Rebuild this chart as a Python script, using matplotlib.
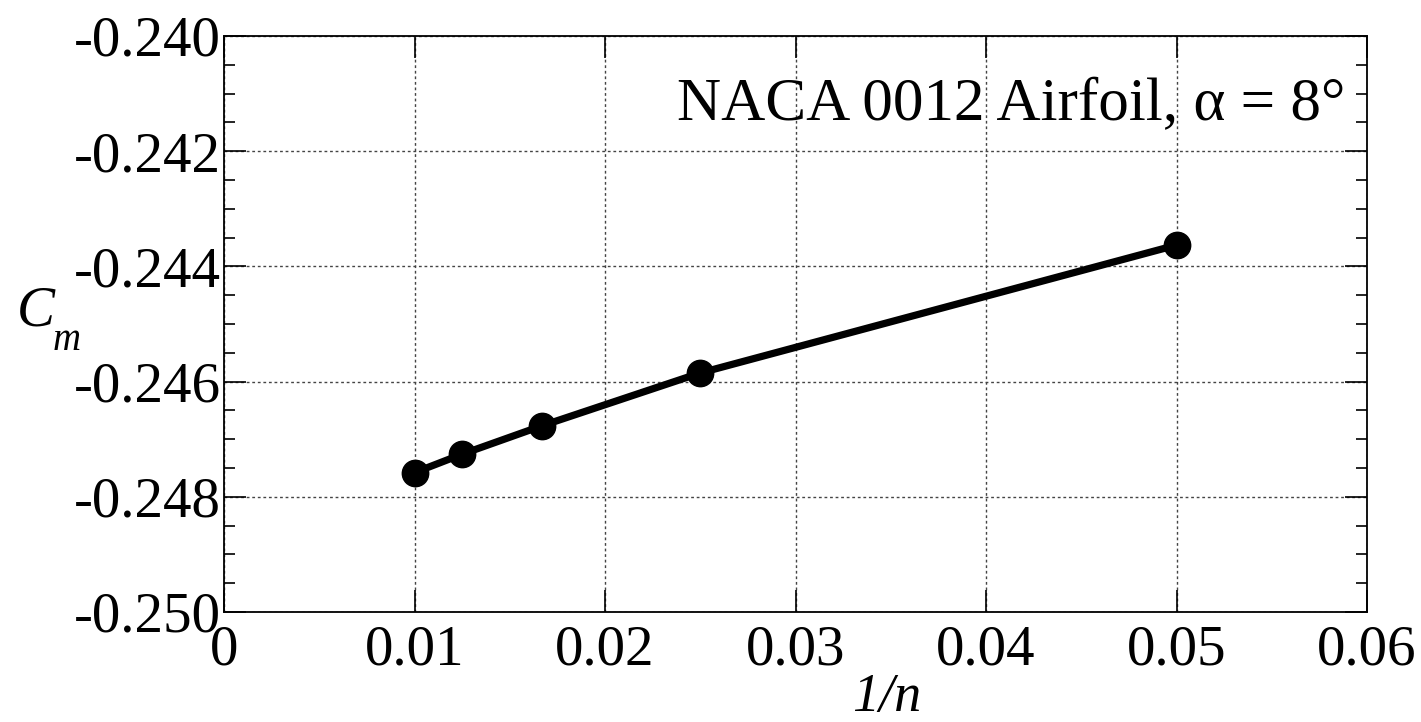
import matplotlib.pyplot as plt
from matplotlib.ticker import MultipleLocator

# grid refinement data: 1/n vs moment coefficient
n_cells = [100, 80, 60, 40, 20]
inv_n = [1.0 / n for n in n_cells]
cm = [-0.24758, -0.24726, -0.24677, -0.24585, -0.24363]

plt.rcParams["font.family"] = ["Liberation Serif", "DejaVu Serif"]

fig = plt.figure(figsize=(14.21, 7.22), dpi=100)
ax = fig.add_axes([224 / 1421, 1 - 612 / 722, (1367 - 224) / 1421, (612 - 36) / 722])

ax.plot(inv_n, cm, "-o", color="black", lw=5.2, markersize=19, zorder=3)

ax.set_xlim(0, 0.06)
ax.set_ylim(-0.250, -0.240)
ax.yaxis.set_major_locator(MultipleLocator(0.002))
ax.yaxis.set_minor_locator(MultipleLocator(0.0005))
ax.set_xticks([0, 0.01, 0.02, 0.03, 0.04, 0.05, 0.06])
ax.set_xticklabels(["0", "0.01", "0.02", "0.03", "0.04", "0.05", "0.06"])
ax.set_yticklabels(["%.3f" % v for v in ax.get_yticks()])

ax.tick_params(axis="both", which="major", direction="in", labelsize=41,
               length=16, width=1.2, top=True, right=True)
ax.tick_params(axis="y", which="minor", direction="in", length=8, width=1.2,
               right=True, left=True)
ax.tick_params(axis="y", which="major", pad=2)
ax.tick_params(axis="x", which="major", pad=9)

ax.grid(True, which="major", linestyle=(0, (2, 2)), color="#444444", lw=1)
for s in ax.spines.values():
    s.set_linewidth(1.3)

ax.text(0.981, 0.854, "NACA 0012 Airfoil, α = 8°", transform=ax.transAxes,
        ha="right", va="baseline", fontsize=44)

# axis labels placed by hand like the original
fig.text(887 / 1421, 1 - 711 / 722, "1/n", style="italic", fontsize=39,
         ha="center", va="baseline")
fig.text(17 / 1421, 1 - 325 / 722, "C", style="italic", fontsize=41,
         ha="left", va="baseline")
fig.text(53 / 1421, 1 - 350 / 722, "m", style="italic", fontsize=28,
         ha="left", va="baseline")

plt.savefig("out.png", dpi=100)
